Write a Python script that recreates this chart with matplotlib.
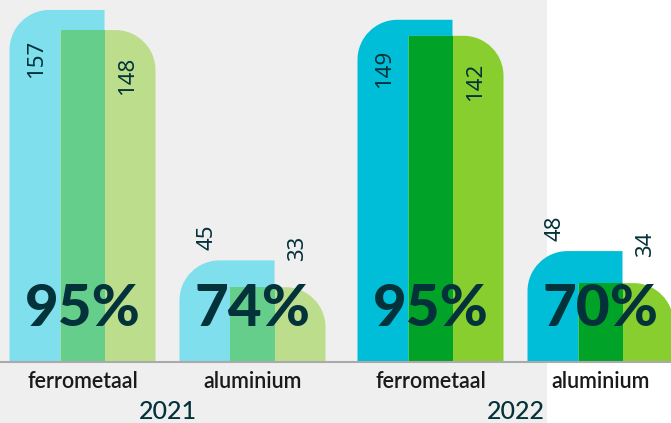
import numpy as np
import matplotlib
matplotlib.use('Agg')
import matplotlib.pyplot as plt
from matplotlib.path import Path
from matplotlib.patches import PathPatch, Rectangle
from matplotlib.lines import Line2D

years = ['2021', '2022']
categories = ['ferrometaal', 'aluminium']
blue_values = {'2021': [157, 45], '2022': [149, 48]}
green_values = {'2021': [148, 33], '2022': [142, 34]}
percent_labels = {'2021': ['95%', '74%'], '2022': ['95%', '70%']}

colors = {
    '2021': ('#7fdfed', '#66ce8b', '#bcde8c'),
    '2022': ('#00bed8', '#00a227', '#88ce2f'),
}
dark = '#03323a'

W, H = 671, 423
fig = plt.figure(figsize=(W / 100, H / 100), dpi=100)
fig.patch.set_facecolor('white')
fig.patches.append(Rectangle((0, 0), 547 / W, 1, transform=fig.transFigure,
                             facecolor='#efefef', edgecolor='none', zorder=-10))

base_px = 62  # baseline height from bottom, pixels
# axes: [left px, width px, x offset of first category px, y max]
layout = {'2021': (0, 340, 82.5, 361 / 2.236),
          '2022': (340, 331, 90.5, 361 / 2.29)}
step = 170.0  # px between categories
bar_w = 95 / step
shift = 25.5 / step
r_px = 40


def rounded_bar(ax, x0, w, h, rx, ry, side, color):
    k = 0.5523
    if side == 'left':
        verts = [(x0, 0), (x0 + w, 0), (x0 + w, h), (x0 + rx, h),
                 (x0 + rx - k * rx, h), (x0, h - ry + k * ry), (x0, h - ry),
                 (x0, 0)]
        codes = [Path.MOVETO, Path.LINETO, Path.LINETO, Path.LINETO,
                 Path.CURVE4, Path.CURVE4, Path.CURVE4, Path.CLOSEPOLY]
    else:
        verts = [(x0, 0), (x0 + w, 0), (x0 + w, h - ry),
                 (x0 + w, h - ry + k * ry), (x0 + w - rx + k * rx, h), (x0 + w - rx, h),
                 (x0, h), (x0, 0)]
        codes = [Path.MOVETO, Path.LINETO, Path.LINETO,
                 Path.CURVE4, Path.CURVE4, Path.CURVE4,
                 Path.LINETO, Path.CLOSEPOLY]
    ax.add_patch(PathPatch(Path(verts, codes), facecolor=color, edgecolor='none'))


val_font = dict(rotation=90, ha='center', fontsize=16, color=dark,
                family='Noto Sans')

for year in years:
    left_px, width_px, first_px, ymax = layout[year]
    ax = fig.add_axes([left_px / W, base_px / H, width_px / W, (H - base_px) / H])
    ax.set_facecolor('none')
    ax.set_xlim(-first_px / step, (width_px - first_px) / step)
    ax.set_ylim(0, ymax)
    rx = r_px / step
    ry = r_px * ymax / (H - base_px)
    px_y = ymax / (H - base_px)
    c_blue, c_mid, c_green = colors[year]
    x = np.arange(len(categories))
    for i in x:
        b = blue_values[year][i]
        g = green_values[year][i]
        bx = i - shift - bar_w / 2
        gx = i + shift - bar_w / 2
        rounded_bar(ax, bx, bar_w, b, rx, ry, 'left', c_blue)
        rounded_bar(ax, gx, bar_w, g, rx, ry, 'right', c_green)
        ax.add_patch(Rectangle((gx, 0), bx + bar_w - gx, min(b, g),
                               facecolor=c_mid, edgecolor='none'))
        lx_b = (bx + gx) / 2 + 2 / step
        lx_g = (bx + bar_w + gx + bar_w) / 2 - 2 / step
        if b > 100:
            ax.text(lx_b, b - 30 * px_y, str(b), va='top', **val_font)
            ax.text(lx_g, g - 27 * px_y, str(g), va='top', **val_font)
        else:
            ax.text(lx_b, b + 10 * px_y, str(b), va='bottom', **val_font)
            ax.text(lx_g, g + 26 * px_y, str(g), va='bottom', **val_font)
        ax.text(i, 52 * px_y, percent_labels[year][i], ha='center', va='center',
                fontsize=42, fontweight='black', color=dark, family='Lato')
    ax.set_xticks(x, categories)
    ax.tick_params(axis='x', length=0, pad=7, labelsize=15.5, labelcolor='#1a1a1a')
    for t in ax.get_xticklabels():
        t.set_family('Lato')
        t.set_fontweight('semibold')
    ax.set_yticks([])
    for s in ax.spines.values():
        s.set_visible(False)
    ax.text(0.5, -50 * px_y, year, ha='center', va='center', fontsize=18,
            fontweight='medium', color=dark, family='Lato', clip_on=False)

fig.lines.append(Line2D([0, 1], [(base_px - 0.5) / H] * 2, transform=fig.transFigure,
                        color='#aaaaaa', linewidth=1.5))

fig.savefig('out.png', dpi=100)
